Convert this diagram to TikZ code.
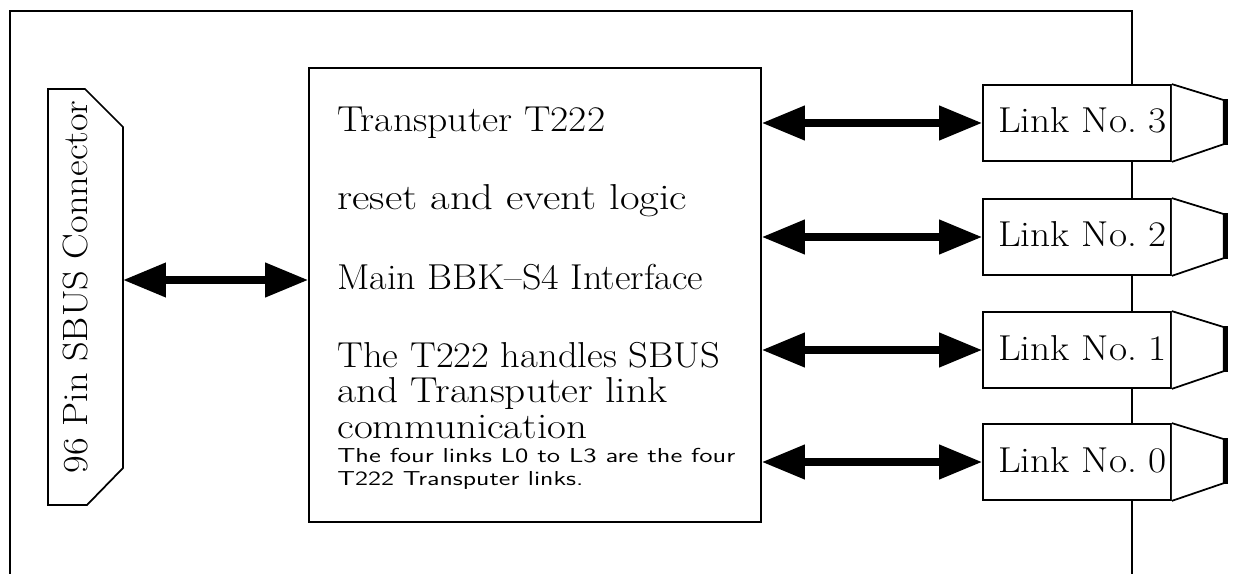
\documentclass[tikz,border=0pt]{standalone}
\usepackage{graphicx}
\usetikzlibrary{arrows.meta}
\newcommand{\fitw}[2]{\resizebox{#1}{\height}{#2}}
\begin{document}
\begin{tikzpicture}[x=0.02cm,y=-0.02cm,
  frame/.style={line width=1pt},
  box/.style={draw,line width=1pt,fill=white,inner sep=0pt},
  bigarrow/.style={line width=4.2pt,{Triangle[length=0.86cm,width=0.66cm]}-{Triangle[length=0.86cm,width=0.66cm]}},
  bigtxt/.style={font=\fontsize{20.5}{24}\selectfont,anchor=base west,inner sep=0pt},
  smalltxt/.style={font=\sffamily\fontsize{11.5}{14}\selectfont,anchor=base west,inner sep=0pt},
  linktxt/.style={font=\fontsize{20.5}{24}\selectfont,anchor=base,inner sep=0pt},
  conntxt/.style={font=\fontsize{20}{24}\selectfont,rotate=90,inner sep=0pt},
]
\useasboundingbox (0,0) rectangle (1237,574);
% outer frame
\draw[frame] (10,574) -- (10,11) -- (1132,11) -- (1132,574);
% SBUS connector
\coordinate (cA) at (48,505);
\coordinate (cB) at (48,89);
\coordinate (cC) at (85,89);
\coordinate (cD) at (123,127);
\coordinate (cE) at (123,468);
\coordinate (cF) at (87,505);
\draw[line width=1pt,fill=white] (cA) -- (cB) -- (cC) -- (cD) -- (cE) -- (cF) -- cycle;
\node[conntxt] (conntext) at (75,287) {\fitw{7.46cm}{96 Pin SBUS Connector}};
\coordinate (connR) at (123,280);
% main box
\node[box,minimum width=9.04cm,minimum height=9.08cm] (main) at (535,295) {};
\node[bigtxt] (t1) at (337,132) {\fitw{5.36cm}{Transputer T222}};
\node[bigtxt] (t2) at (337,210) {\fitw{7.0cm}{reset and event logic}};
\node[bigtxt] (t3) at (337,290) {\fitw{7.32cm}{Main BBK\textendash S4 Interface}};
\node[bigtxt] (t4) at (337,367) {\fitw{7.66cm}{The T222 handles SBUS}};
\node[bigtxt] (t5) at (337,402) {\fitw{6.6cm}{and Transputer link}};
\node[bigtxt] (t6) at (337,438) {\fitw{5.0cm}{communication}};
\node[smalltxt] (t7) at (337,462) {\fitw{7.96cm}{The four links L0 to L3 are the four}};
\node[smalltxt] (t8) at (337,485) {\fitw{4.92cm}{T222 Transputer links.}};
% arrow to connector
\draw[bigarrow] (connR) -- (main.west |- connR);
% links
\foreach \n/\y in {3/123,2/237,1/350,0/462}{
  \node[box,minimum width=3.76cm,minimum height=1.52cm] (link\n) at (1077,\y) {};
  \node[linktxt] (linktext\n) at (1082.5,\y+10) {\fitw{3.38cm}{Link No.~\n}};
  \draw[line width=1pt,fill=white] (link\n.north east) -- ++(52,16) -- ++(0,44) -- (link\n.south east);
  \fill (link\n.north east) ++(51,15) rectangle ++(5,46);
  \draw[bigarrow] (main.east |- link\n.west) -- (link\n.west);
}
\end{tikzpicture}
\end{document}
